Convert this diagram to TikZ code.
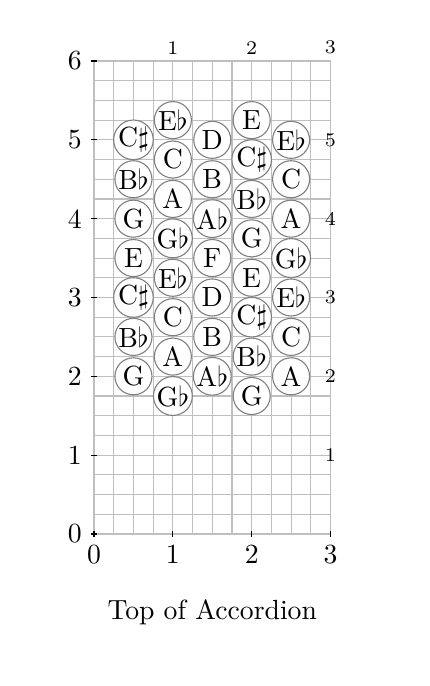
\documentclass[tikz,border=0pt]{standalone}
\begin{document}
\begin{tikzpicture}[x=1cm,y=1cm,
  gridline/.style={draw=black!25, line width=0.4pt},
  note/.style={circle, draw=black!50, fill=white, line width=0.4pt, minimum size=0.47cm, inner sep=0pt, font=\normalsize},
  ticklabel/.style={inner sep=0pt, font=\normalsize},
  smalllabel/.style={inner sep=0pt, font=\scriptsize},
  tickmark/.style={draw=black, line width=0.4pt}]
\useasboundingbox (-1.193,-1.929) rectangle (4.251,6.774);
% grid
\foreach \i in {0,...,12} {
  \draw[gridline] ({\i/4},0) -- ({\i/4},6);
}
\foreach \j in {0,...,24} {
  \draw[gridline] (0,{\j/4}) -- (3,{\j/4});
}
% ticks
\foreach \y in {0,...,6} {
  \draw[tickmark] (-0.04,\y) -- (0.04,\y);
  \node[ticklabel, anchor=east] (yl\y) at (-0.15,\y) {\y};
}
\foreach \x in {0,...,3} {
  \draw[tickmark] (\x,-0.04) -- (\x,0.04);
  \node[ticklabel, anchor=north] (xl\x) at (\x,-0.14) {\x};
}
\foreach \x in {1,2,3} {
  \node[smalllabel] (tl\x) at (\x,6.17) {\x};
}
\foreach \y in {1,...,5} {
  \node[smalllabel] (rl\y) at (3,\y) {\y};
}
% notes
\foreach \y/\t [count=\i] in {2/G, 2.5/B$\flat$, 3/C$\sharp$, 3.5/E, 4/G, 4.5/B$\flat$, 5/C$\sharp$} {
  \node[note] (a\i) at (0.5,\y) {\t};
}
\foreach \y/\t [count=\i] in {1.75/G$\flat$, 2.25/A, 2.75/C, 3.25/E$\flat$, 3.75/G$\flat$, 4.25/A, 4.75/C, 5.25/E$\flat$} {
  \node[note] (b\i) at (1,\y) {\t};
}
\foreach \y/\t [count=\i] in {2/A$\flat$, 2.5/B, 3/D, 3.5/F, 4/A$\flat$, 4.5/B, 5/D} {
  \node[note] (c\i) at (1.5,\y) {\t};
}
\foreach \y/\t [count=\i] in {1.75/G, 2.25/B$\flat$, 2.75/C$\sharp$, 3.25/E, 3.75/G, 4.25/B$\flat$, 4.75/C$\sharp$, 5.25/E} {
  \node[note] (d\i) at (2,\y) {\t};
}
\foreach \y/\t [count=\i] in {2/A, 2.5/C, 3/E$\flat$, 3.5/G$\flat$, 4/A, 4.5/C, 5/E$\flat$} {
  \node[note] (e\i) at (2.5,\y) {\t};
}
\node[font=\normalsize, anchor=base] (title) at (1.5,-1.08) {Top of Accordion};
\end{tikzpicture}
\end{document}
